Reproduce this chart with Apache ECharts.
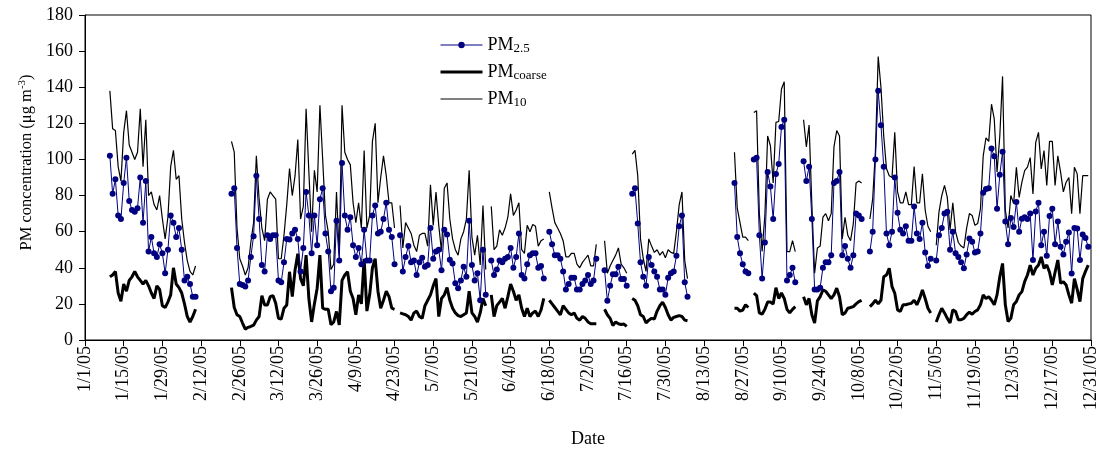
<!DOCTYPE html>
<html>
<head>
<meta charset="utf-8">
<script src="https://cdn.jsdelivr.net/npm/echarts@6/dist/echarts.min.js"></script>
<style>
html,body{margin:0;padding:0;background:#fff;}
#chart{width:1100px;height:453px;}
</style>
</head>
<body>
<div id="chart"></div>
<script>
// Day index: 0 = 1/1/05. Series arrays start at firstDay; null = no measurement.
const firstDay = 9;
const tickLabels = ['1/1/05','1/15/05','1/29/05','2/12/05','2/26/05','3/12/05','3/26/05','4/9/05','4/23/05','5/7/05','5/21/05','6/4/05','6/18/05','7/2/05','7/16/05','7/30/05','8/13/05','8/27/05','9/10/05','9/24/05','10/8/05','10/22/05','11/5/05','11/19/05','12/3/05','12/17/05','12/31/05'];
const seriesNames = ['PM2.5','PMcoarse','PM10'];

const pm25 = [
  102,81,89,69,67,87,101,77,72,71,73,90,65,88,49,57,48,46,53,48,37,50,69,65,57,62,50,33,35,31,24,24,
  null,null,null,null,null,null,null,null,null,null,null,null,
  81,84,51,31,30.5,29.6,33,46,57.5,91,67,41.5,38,58,56,58,58,33,32,43,56,55.6,59,61,56,38,51,82,69,
  48,69,52.5,78,84,59,49,27,29,66,44,98,69,61,68,52.5,46,51,42,61,44,44,69,74.5,59,60,67,76,61,57,42,
  null,
  58,38,46,52,43,44,36,43,45.5,40.6,41.5,62,45,49,50,38.7,61,58.5,44.5,42.4,31.4,28.7,33,40.6,35,66,41.5,33,37,22,50,25,
  null,
  44,36,39,44,43,45,46,51,40,46,59,36,34,42,47,48,48,40,41,34,
  null,
  60,53,47,47,45,38,28,31,34.5,34.5,28,28,31,33,36,31,33,45,
  null,null,
  38.7,21.7,30,36.4,36.4,40.6,33.8,33.8,30,
  null,
  81,84,64.5,43,35,30,46,41.5,38,35,28,28,25,34.5,37,38,46.6,63,69,32,24,
  null,null,null,null,null,null,null,null,null,null,null,null,null,null,null,null,
  87,57,48,42,38,37,
  null,
  100,101,58,34,54,93,85,67,92,97.5,118,122,33,36,40,32,
  null,null,
  99,88,96,67,28,28,29,40,43,43,47,87,88,93,47,52,45,40,47,70,69,67,
  null,null,
  49,60,100,138,119,96,59,52.5,60,90,70.5,61,59,63,55,55,74,59,56,65,48.5,41,45,
  null,
  44,58,62,70,71,50,60,48,46,43,39.7,47.4,56.2,54.4,48.5,49,59,81.5,83.7,84,
  106,101.8,72.7,91.5,104.3,65.7,53,67.6,62.6,76.4,59.9,67.2,68,67,70,44.3,71.2,76,52.5,59.9,
  46.6,68.7,72.7,53,65.7,51.6,47.4,54.4,59.5,36.9,62,61.7,44.3,58.4,56.5,51.6
];

const pmCoarse = [
  35,36,38,26,21.5,31,27,33,35,38,35,33,31,33,30,26,23,30,28,19,18,21,25,40,31,29,26,20,13,10,13,17,
  null,null,null,null,null,null,null,null,null,null,null,null,
  29,18,14,13,9.4,6,7,7.5,8.2,11,13,24.6,19.4,19.4,24,24.6,20.4,12,11.6,17.6,19.4,37.8,24,38.7,47.8,34,30,47,23,10,
  20,28.7,47,17.6,17,17,8.4,10,15.8,8.4,33,36,37.8,27,23,14,25,20,45,16,25,40,45,27,17.6,22,27,24,17.6,17,
  null,
  15,14.5,14,13,11,15,16,13,12,19,22,25,30,34,13,23,25,29,22,17.6,15,13.5,13,14,15,27,15,13,10,15,23,19,
  null,
  25,13,19,21,23,17.6,24,31,27,22,25,17.6,13,17.6,13,15,16,13,16.6,23,
  null,
  22,20,18,16,14,19,17,15,14,15,12,11,13,12,10,9,9,9,
  null,null,
  17,14,12,8,10,9,8.6,8.8,7.5,
  null,
  23,22,19,14,13,9.4,11,12,11.6,16,19,21,18,14,11,12.5,13,13.5,13,11,10.7,
  null,null,null,null,null,null,null,null,null,null,null,null,null,null,null,null,
  17.6,17.6,16,16.6,19.5,18,
  null,
  26,24.6,15,14.3,17,21,21,20,29,23,26,23,17,15,17,18.5,
  null,null,
  24,19.5,23,14,9.4,21.7,24,27.7,27,25,23,25,28.7,24,14,15,17.6,18,18.5,20,21.3,22,
  null,null,
  18.5,20,22,20,22,35,36,39.7,29.6,25.9,16.7,15.8,19.5,19.5,20,20.3,22,19.5,23,27.7,23,17.6,15,
  null,
  10,14,17.6,15,12,9.4,16.7,15.8,11.2,11.2,12,14,15.4,14.3,15.8,16.7,19.5,25,23,24,
  22,19.5,25,35,42.4,19.5,10.3,12,19.5,21.3,25,26.8,32.3,36,41.5,36,39.7,41.5,46,39.7,
  41.5,37.5,30.5,37.5,44.3,31.4,32.3,30.5,25,20.4,34,28,21.3,34,38,41.5
];

const pm10 = [
  138,117,116,96,88,115,127,108,104,100,104,128,96,122,80,82,75,72,80,67,56,68,96,105,89,91,67,54,44,38,36,41,
  null,null,null,null,null,null,null,null,null,null,null,null,
  110,104,62,45,41,36,40,54,65,102,78,62,55,78,82,80,78,45,45,58,75,95,80,91,111,67,74,128,93,60,
  94,82,130,100,69,60,39,42,82,47,130,104,100,97,76,65,76,62,105,62,69,110,120,76,90,102,91,76,76,62,
  null,
  74.5,51,65,62,59,52.5,49,58,59,59,52,86,63.5,82,63.5,49,84,87,67,56,50,47,56,60,67,94,57,47,58,41.5,74.5,39,
  null,
  74,50,52,61,58,62,68,81,69,72,76,50,48,63.5,60,64,63,52,55,56,
  null,
  82,73,65,62,59,55,46,46,48,48,42,40,43,45,47,41,41,53,
  null,null,
  55,37,41,44,47,51,42,40,37,
  null,
  103,105,91,56,45,38,56,52,48.5,50,47,49,45.5,50,48.5,48,60,75,82,44,34,
  null,null,null,null,null,null,null,null,null,null,null,null,null,null,null,null,
  104,73,65,57,57,55,
  null,
  126,127,70,49,69,113,107.6,87,120.5,121,139,143,49,49,55,49,
  null,null,
  122,107,119,75,37,51,52,68,70,66,70,107,116,113,56,68,58,55,64.5,87,88,87,
  null,null,
  67,78,105,157,140,113,95,91,90,115,82,76,76,82,75,75,96,76,76,92,72,63,60,
  null,
  52.5,71,80,85.6,79,61,76,60,54,52,51,62,70,69,63.5,64.5,72.7,102,112,110,
  130.6,122.3,93,113,146,72,62,80,75.5,95.7,79,87.4,93.8,95.7,101,80.9,109.5,115,94.8,104.9,
  85.6,110,110,85.6,102,93,82,87.4,90,70,95.7,92,70,91,91,91
];

const toPairs = arr => arr.map((v, i) => [firstDay + i, v]);
const serif = "'Liberation Serif','Times New Roman',serif";

const chart = echarts.init(document.getElementById('chart'), null, {renderer: 'canvas'});
const legendRich = {
  m: {fontFamily: serif, fontSize: 18, color: '#000'},
  s: {fontFamily: serif, fontSize: 13, color: '#000', padding: [7, 0, 0, 0]}
};
chart.setOption({
  animation: false,
  backgroundColor: '#fff',
  grid: {left: 85, right: 9, top: 15, bottom: 111, show: true, borderColor: '#000', borderWidth: 1, backgroundColor: 'transparent'},
  legend: {
    orient: 'vertical', left: 434, top: 31,
    itemWidth: 42, itemHeight: 8, itemGap: 8,
    data: [
      {name: seriesNames[0], lineStyle: {width: 1, color: '#000080'}},
      {name: seriesNames[1], itemStyle: {opacity: 0}, lineStyle: {width: 3, color: '#000'}},
      {name: seriesNames[2], itemStyle: {opacity: 0}, lineStyle: {width: 1, color: '#000'}}
    ],
    formatter: name => '{m|PM}{s|' + name.slice(2) + '}',
    textStyle: {rich: legendRich, fontFamily: serif, fontSize: 18}
  },
  xAxis: {
    type: 'value', min: 0, max: 364, interval: 14,
    name: 'Date', nameLocation: 'middle', nameGap: 90,
    nameTextStyle: {fontFamily: serif, fontSize: 18, color: '#000'},
    axisLine: {lineStyle: {color: '#000', width: 1}},
    axisTick: {length: 6, lineStyle: {color: '#000'}},
    splitLine: {show: false},
    axisLabel: {
      rotate: 90, margin: 6, fontFamily: serif, fontSize: 18, color: '#000',
      formatter: v => tickLabels[Math.round(v / 14)]
    }
  },
  yAxis: {
    type: 'value', min: 0, max: 180, interval: 20,
    name: '{a|PM concentration (μg m}{b|-3}{a|)}', nameLocation: 'middle', nameGap: 48, nameRotate: 90,
    nameTextStyle: {padding: [0, 0, 0, 30], rich: {
      a: {fontFamily: serif, fontSize: 16.5, color: '#000'},
      b: {fontFamily: serif, fontSize: 11, color: '#000', padding: [0, 0, 8, 0]}
    }},
    axisLine: {show: true, lineStyle: {color: '#000', width: 1}},
    axisTick: {show: true, length: 6, lineStyle: {color: '#000'}},
    splitLine: {show: false},
    axisLabel: {fontFamily: serif, fontSize: 18, color: '#000', margin: 12}
  },
  series: [
    {
      name: seriesNames[0], type: 'line', data: toPairs(pm25), connectNulls: false,
      symbol: 'circle', symbolSize: 6, showSymbol: true, z: 4,
      itemStyle: {color: '#000080'}, lineStyle: {color: '#000080', width: 1}
    },
    {
      name: seriesNames[1], type: 'line', data: toPairs(pmCoarse), connectNulls: false,
      symbol: 'none', z: 3,
      itemStyle: {color: '#000'}, lineStyle: {color: '#000', width: 3}
    },
    {
      name: seriesNames[2], type: 'line', data: toPairs(pm10), connectNulls: false,
      symbol: 'none', z: 2,
      itemStyle: {color: '#000'}, lineStyle: {color: '#000', width: 1.2}
    }
  ]
});
</script>
</body>
</html>
